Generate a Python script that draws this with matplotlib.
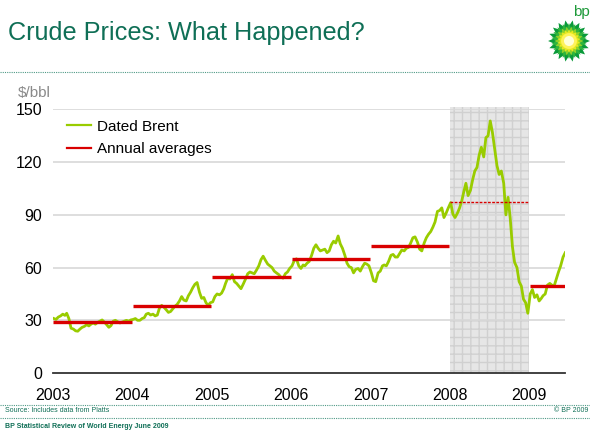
import pandas as pd
import numpy as np
import matplotlib
matplotlib.use("Agg")
import matplotlib.pyplot as plt
from matplotlib.patches import Polygon, Circle
from matplotlib.lines import Line2D

plt.rcParams['font.family'] = ['Liberation Sans', 'DejaVu Sans']

GREEN_TXT = '#0f6f56'
BRENT_COL = '#99cc00'
AVG_COL = '#d90000'

# Dated Brent, $/bbl, three readings per month (5th, 15th, 25th)
brent_2003 = [31.0, 30.5, 31.8, 32.5, 33.5, 32.8, 34.0, 31.0, 25.5, 25.0, 24.0, 23.8,
              25.0, 26.0, 26.5, 27.5, 26.8, 27.8, 28.5, 27.8, 28.8, 29.5, 30.2, 29.0,
              27.5, 26.0, 27.0, 29.5, 30.0, 29.2, 28.5, 29.0, 29.5, 30.0, 29.5, 30.2]
brent_2004 = [30.5, 31.0, 30.0, 30.0, 31.0, 31.5, 33.5, 34.0, 33.0, 33.5, 32.5, 33.0,
              37.0, 38.5, 37.5, 36.0, 34.5, 35.0, 36.5, 38.0, 39.0, 41.0, 43.5, 41.5,
              41.0, 44.0, 46.0, 48.5, 50.5, 51.5, 46.0, 42.5, 43.0, 40.0, 38.5, 40.0]
brent_2005 = [40.5, 43.5, 45.0, 44.5, 45.5, 48.0, 51.0, 54.0, 53.5, 56.0, 52.0, 51.0,
              49.5, 48.0, 50.5, 53.5, 56.5, 57.5, 57.0, 56.5, 58.5, 61.0, 64.5, 66.5,
              64.0, 62.0, 61.0, 60.0, 58.0, 57.0, 56.0, 54.5, 54.0, 56.5, 57.5, 59.5]
brent_2006 = [61.0, 64.0, 65.0, 61.0, 59.5, 61.5, 61.0, 62.5, 63.5, 67.0, 71.0, 73.0,
              71.0, 69.5, 70.0, 70.5, 68.5, 69.5, 73.0, 75.0, 74.0, 78.0, 73.5, 71.0,
              67.0, 62.5, 60.5, 60.0, 57.0, 59.0, 59.5, 58.0, 60.5, 62.5, 62.0, 61.0]
brent_2007 = [57.0, 52.5, 52.0, 57.0, 58.0, 61.0, 61.5, 61.0, 63.5, 67.0, 67.5, 66.0,
              66.0, 68.0, 70.0, 69.5, 71.0, 71.5, 74.0, 77.0, 77.5, 74.5, 70.5, 69.5,
              74.0, 77.0, 79.0, 80.5, 83.0, 86.0, 92.0, 92.5, 94.0, 88.5, 91.0, 94.0]
brent_2008 = [97.0, 90.5, 88.5, 91.0, 94.0, 98.0, 103.0, 108.0, 101.0, 104.0, 110.0, 115.0,
              117.0, 124.0, 128.5, 123.0, 134.0, 135.0, 143.5, 137.0, 128.0, 118.0, 113.0, 115.0,
              108.0, 90.0, 100.0, 88.0, 72.0, 63.0, 60.0, 52.0, 49.5, 42.0, 40.0, 34.0]
brent_2009 = [45.0, 47.5, 43.0, 44.5, 41.0, 42.5, 44.0, 45.0, 50.0, 51.0, 50.0, 49.5,
              53.5, 57.5, 61.0, 66.0, 68.5]

years = [2003, 2004, 2005, 2006, 2007, 2008, 2009]
annual_avg = [28.8, 38.3, 54.5, 65.1, 72.4, 97.3, 49.6]
series = [brent_2003, brent_2004, brent_2005, brent_2006, brent_2007, brent_2008, brent_2009]

dates, prices = [], []
for yr, vals in zip(years, series):
    for i, v in enumerate(vals):
        dates.append(pd.Timestamp(yr, i // 3 + 1, (5, 15, 25)[i % 3]))
        prices.append(v)
dates = pd.to_datetime(dates)
start = pd.Timestamp(2003, 1, 1)
end = pd.Timestamp(2009, 6, 14)

fig = plt.figure(figsize=(5.9, 4.33), dpi=100)
ax = fig.add_axes([53/590, 1 - 373/433, 512/590, (373 - 109.5)/433])

# crisis shading
ax.axvspan(pd.Timestamp(2008, 1, 1), pd.Timestamp(2009, 1, 1), ymin=0, ymax=1.01,
           facecolor='#e6e6e6', edgecolor='#d0d0d0', hatch='++', lw=0, zorder=0, clip_on=False)

for y in [30, 60, 90, 120, 150]:
    ax.axhline(y, color='#d8d8d8', lw=1.2, zorder=1)

ax.plot(dates, prices, color=BRENT_COL, lw=2.0, zorder=3)

for yr, avg in zip(years, annual_avg):
    x0 = pd.Timestamp(yr, 1, 3)
    x1 = pd.Timestamp(yr, 12, 29) if yr < 2009 else end
    if yr == 2008:
        ax.hlines(avg, x0, x1, color=AVG_COL, lw=1.0, linestyles=(0, (2, 1)), zorder=4)
    else:
        ax.hlines(avg, x0, x1, color=AVG_COL, lw=2.4, zorder=4)

ax.set_xlim(start, end)
ax.set_ylim(0, 150)
ax.set_yticks([0, 30, 60, 90, 120, 150])
ax.set_yticklabels(['0', '30', '60', '90', '120', '150'], fontsize=11.5)
ax.set_xticks([pd.Timestamp(y, 1, 1) for y in years])
ax.set_xticklabels([str(y) for y in years], fontsize=11.5)
ax.tick_params(axis='x', length=0, pad=11)
ax.tick_params(axis='y', length=0, pad=8)
for s in ['top', 'right', 'left']:
    ax.spines[s].set_visible(False)
ax.spines['bottom'].set_color('#333333')
ax.spines['bottom'].set_linewidth(1.3)
ax.patch.set_visible(False)

handles = [Line2D([], [], color=BRENT_COL, lw=1.6), Line2D([], [], color=AVG_COL, lw=1.6)]
ax.legend(handles, ['Dated Brent', 'Annual averages'], loc='upper left', frameon=False,
          bbox_to_anchor=(0.015, 0.985), fontsize=11, handlelength=1.6, handletextpad=0.4,
          labelspacing=0.55, borderaxespad=0)

# header
fig.text(8/590, 1 - 40/433, 'Crude Prices: What Happened?', fontsize=18.2, color=GREEN_TXT,
         va='baseline')
fig.text(18/590, 1 - 93/433, '$/bbl', fontsize=11, color='#8a8a8a', va='center')
for yy in [72, 405, 418]:
    fig.add_artist(Line2D([0, 1], [1 - yy/433, 1 - yy/433], color='#4f9a86', lw=0.8,
                          linestyle=(0, (1, 1)), transform=fig.transFigure))

# footer
fig.text(5/590, 1 - 411/433, 'Source: Includes data from Platts', fontsize=5, color=GREEN_TXT, va='center')
fig.text(5/590, 1 - 426/433, 'BP Statistical Review of World Energy June 2009', fontsize=5,
         color=GREEN_TXT, va='center', fontweight='bold')
fig.text(588/590, 1 - 411/433, '\u00a9 BP 2009', fontsize=5, color=GREEN_TXT, va='center', ha='right')

# bp helios logo
lax = fig.add_axes([546/590, 1 - 64/433, 46/590, 46/433])
lax.set_xlim(-1.1, 1.1)
lax.set_ylim(-1.1, 1.1)
lax.set_aspect('equal')
lax.axis('off')
n = 18
ang = np.linspace(0, 2*np.pi, 2*n, endpoint=False)
for r_out, r_in, col, off in [(1.0, 0.72, '#0a9a3a', 0), (0.86, 0.6, '#2fb53c', np.pi/n),
                              (0.7, 0.5, '#8fd12a', 0), (0.55, 0.42, '#e8e81e', np.pi/n)]:
    rr = np.where(np.arange(2*n) % 2 == 0, r_out, r_in)
    lax.add_patch(Polygon(np.c_[rr*np.cos(ang + off), rr*np.sin(ang + off)], color=col, lw=0))
lax.add_patch(Circle((0, 0), 0.38, color='#fff35a', lw=0))
lax.add_patch(Circle((0, 0), 0.24, color='#ffffd8', lw=0))
fig.text(573/590, 1 - 12/433, 'bp', fontsize=11, color='#1e9a3a', va='center', ha='left')

fig.savefig('out.png', dpi=100)
